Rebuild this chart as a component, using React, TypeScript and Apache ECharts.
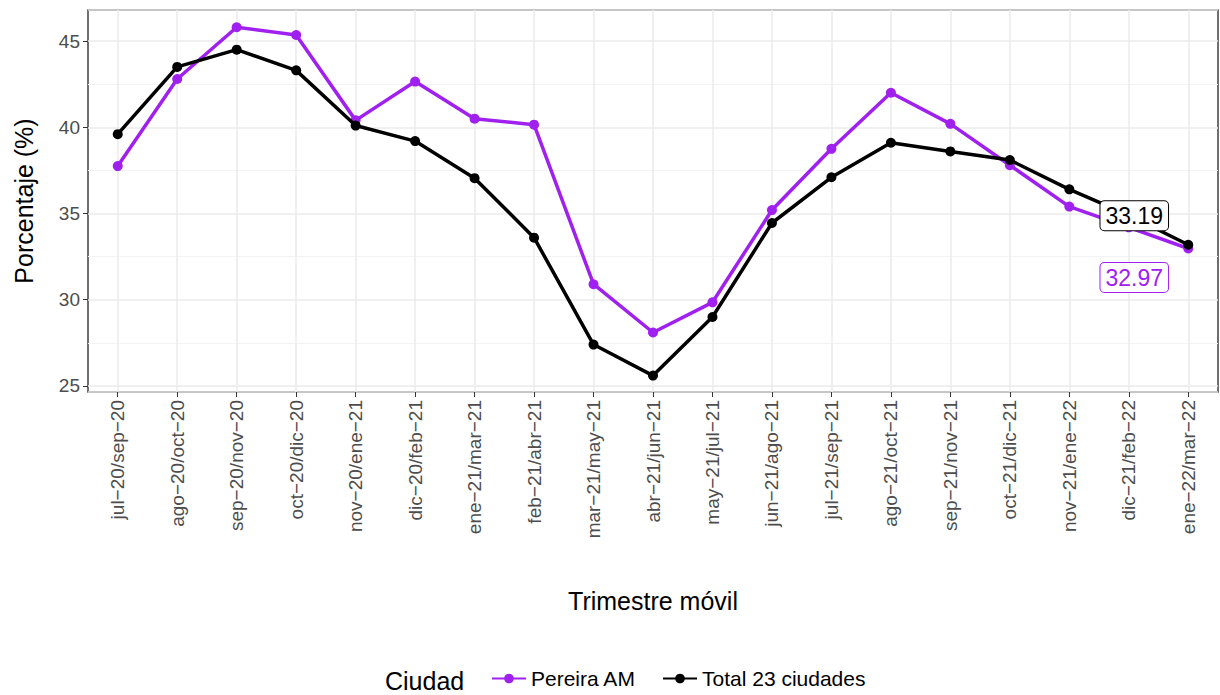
import { useEffect, useRef } from 'react';
import * as echarts from 'echarts';

const categories = [
  'jul−20/sep−20', 'ago−20/oct−20', 'sep−20/nov−20', 'oct−20/dic−20', 'nov−20/ene−21',
  'dic−20/feb−21', 'ene−21/mar−21', 'feb−21/abr−21', 'mar−21/may−21', 'abr−21/jun−21',
  'may−21/jul−21', 'jun−21/ago−21', 'jul−21/sep−21', 'ago−21/oct−21', 'sep−21/nov−21',
  'oct−21/dic−21', 'nov−21/ene−22', 'dic−21/feb−22', 'ene−22/mar−22',
];
const pereira = [37.75, 42.8, 45.8, 45.35, 40.4, 42.65, 40.5, 40.15, 30.9, 28.1,
  29.85, 35.2, 38.75, 42.0, 40.2, 37.8, 35.4, 34.2, 32.97];
const total = [39.6, 43.5, 44.5, 43.3, 40.1, 39.2, 37.05, 33.6, 27.4, 25.6,
  29.0, 34.45, 37.1, 39.1, 38.6, 38.1, 36.4, 34.9, 33.19];

const PURPLE = '#a020f0';
const font = 'Liberation Sans, Arial, sans-serif';

const withEndLabel = (vals: number[], color: string, offsetY: number) =>
  vals.map((v, i) =>
    i === vals.length - 1
      ? {
          value: v,
          label: {
            show: true, position: 'inside', offset: [-54, offsetY],
            formatter: v.toFixed(2), color, fontSize: 23, fontFamily: font,
            backgroundColor: '#fff', borderColor: color, borderWidth: 1,
            borderRadius: 4, padding: [4, 5, 2, 5],
          },
        }
      : v
  );

const App = () => {
  const ref = useRef<HTMLDivElement | null>(null);

  useEffect(() => {
    if (!ref.current) return;
    const chart = echarts.init(ref.current, null, { renderer: 'svg' });
    chart.setOption({
      animation: false,
      textStyle: { fontFamily: font },
      grid: { left: 88, right: 2, top: 10, bottom: 303, show: true, borderColor: '#222', borderWidth: 1.3 },
      legend: {
        bottom: 1, left: 486, itemWidth: 34, itemHeight: 12, itemGap: 26,
        textStyle: { fontSize: 21, color: '#000' },
        data: ['Pereira AM', 'Total 23 ciudades'],
      },
      graphic: [{ type: 'text', left: 385, bottom: 2, style: { text: 'Ciudad', fontSize: 25, fill: '#000', fontFamily: font } }],
      xAxis: {
        type: 'category', data: categories,
        name: 'Trimestre móvil', nameLocation: 'middle', nameGap: 196,
        nameTextStyle: { fontSize: 25, color: '#000' },
        axisLine: { show: false },
        axisTick: { show: true, alignWithLabel: true, lineStyle: { color: '#333' } },
        axisLabel: { rotate: 90, fontSize: 19, color: '#4d4d4d', margin: 8 },
      },
      yAxis: {
        type: 'value', min: 24.65, max: 46.8, splitNumber: 4,
        name: 'Porcentaje (%)', nameLocation: 'middle', nameGap: 52,
        nameTextStyle: { fontSize: 25, color: '#000' },
        axisLine: { show: false },
        axisTick: { show: true, lineStyle: { color: '#333' } },
        axisLabel: { fontSize: 19, color: '#4d4d4d', showMinLabel: false, showMaxLabel: false },
        splitLine: { lineStyle: { color: '#ebebeb', width: 1.5 } },
        minorSplitLine: { show: true, lineStyle: { color: '#f3f3f3', width: 1 } },
        minorTick: { splitNumber: 2 },
      },
      series: [
        {
          name: 'Pereira AM', type: 'line', data: withEndLabel(pereira, PURPLE, 29),
          color: PURPLE, lineStyle: { width: 3.5 }, symbol: 'circle', symbolSize: 10, z: 3,
          markLine: {
            silent: true, symbol: 'none', label: { show: false },
            lineStyle: { color: '#ebebeb', width: 1.5, type: 'solid' },
            data: categories.map((c) => ({ xAxis: c })), z: 0,
          },
        },
        {
          name: 'Total 23 ciudades', type: 'line', data: withEndLabel(total, '#000', -29),
          color: '#000', lineStyle: { width: 3.5 }, symbol: 'circle', symbolSize: 10, z: 4,
        },
      ],
    });
    return () => chart.dispose();
  }, []);

  return <div ref={ref} style={{ width: '1220px', height: '695px', position: 'absolute', left: 0, top: 0 }} />;
};

export default App;
